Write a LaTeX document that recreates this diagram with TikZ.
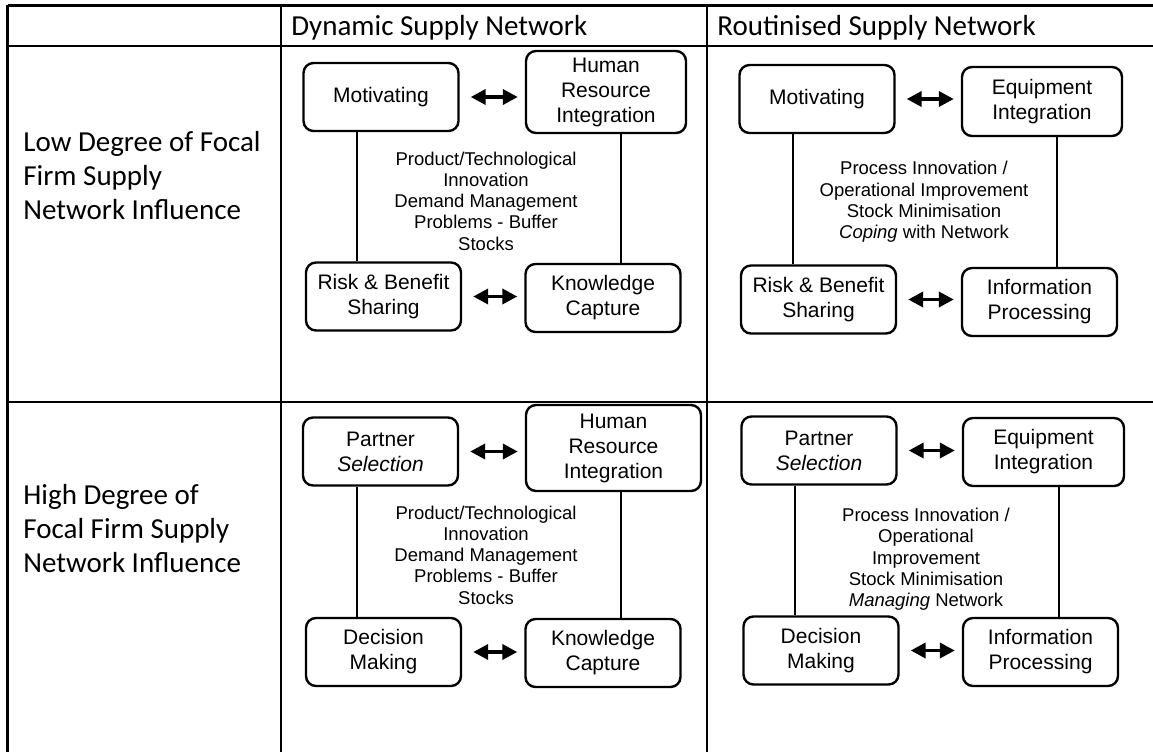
\documentclass[tikz,border=0pt]{standalone}
\usepackage{fontspec}
\setmainfont{Carlito}
\newfontfamily\arialfont{Liberation Sans}
\usetikzlibrary{positioning, arrows.meta}

\begin{document}
\begin{tikzpicture}[
    x=0.5pt, y=-0.5pt,
    % Styles
    rowlabel/.style={font=\fontsize{14.5}{17}\selectfont, align=left, anchor=north west, inner sep=0pt},
    colhead/.style={font=\fontsize{14.5}{17}\selectfont, anchor=base west, inner sep=0pt},
    activity/.style={draw, line width=1.2pt, rounded corners=5pt, align=center, font=\arialfont\fontsize{10.5}{12.5}\selectfont, minimum width=77.5pt, minimum height=34pt, inner sep=2pt},
    focus/.style={align=center, font=\arialfont\fontsize{9.25}{10.65}\selectfont, inner sep=0pt},
    grid-line/.style={line width=1.25pt},
    link-line/.style={line width=1pt},
    swap-arrow/.style={{Triangle[length=7.5pt,width=7.5pt]}-{Triangle[length=7.5pt,width=7.5pt]}, line width=1.8pt, shorten <=5.5pt, shorten >=3.5pt},
]
\useasboundingbox (0,0) rectangle (1153,751);

% Table grid
\draw[grid-line] (7.5,5.5) -- (1160,5.5);
\draw[grid-line] (7.5,46) -- (1160,46);
\draw[grid-line] (7.5,402) -- (1160,402);
\draw[grid-line] (7.5,4.9) -- (7.5,760);
\draw[grid-line] (281,4.9) -- (281,760);
\draw[grid-line] (707,4.9) -- (707,760);

% Headings
\node[colhead] (dynamic) at (291,35) {Dynamic Supply Network};
\node[colhead] (routine) at (717,35) {Routinised Supply Network};
\node[rowlabel] (low) at (23,130.5) {Low Degree of Focal\\Firm Supply\\Network Influence};
\node[rowlabel] (high) at (23,483.5) {High Degree of\\Focal Firm Supply\\Network Influence};

% LOW / DYNAMIC
\begin{scope}[shift={(281,46)}]
    \node[activity] (ld-mot) at (100,51) {Motivating};
    \node[activity, minimum width=80pt, minimum height=41pt] (ld-hri) at (325,46) {Human\\Resource\\Integration};
    \node[activity] (ld-risk) at (102.5,250.5) {Risk \& Benefit\\Sharing};
    \node[activity] (ld-know) at (322,252) {Knowledge\\Capture};
    \node[focus] (ld-focus) at (205,155) {Product/Technological\\Innovation\\Demand Management\\Problems - Buffer\\Stocks};

    \coordinate (ld-left) at ([xshift=-12pt]ld-mot.south);
    \coordinate (ld-right) at ([xshift=7.5pt]ld-hri.south);
    \draw[link-line] (ld-left) -- (ld-left |- ld-risk.north);
    \draw[link-line] (ld-right) -- (ld-right |- ld-know.north);
    \draw[swap-arrow] (ld-mot.east) -- (ld-mot.east -| ld-hri.west);
    \draw[swap-arrow] (ld-risk.east) -- (ld-risk.east -| ld-know.west);
\end{scope}

% LOW / ROUTINISED
\begin{scope}[shift={(707,46)}]
    \node[activity] (lr-mot) at (110,53) {Motivating};
    \node[activity, minimum width=80pt, minimum height=34.5pt] (lr-equip) at (335,55.5) {Equipment\\Integration};
    \node[activity] (lr-risk) at (111.5,253.5) {Risk \& Benefit\\Sharing};
    \node[activity] (lr-info) at (332.5,256) {Information\\Processing};
    \node[focus] (lr-focus) at (217,156) {Process Innovation /\\Operational Improvement\\Stock Minimisation\\\textit{Coping} with Network};

    \coordinate (lr-left) at ([xshift=-12pt]lr-mot.south);
    \coordinate (lr-right) at ([xshift=7.5pt]lr-equip.south);
    \draw[link-line] (lr-left) -- (lr-left |- lr-risk.north);
    \draw[link-line] (lr-right) -- (lr-right |- lr-info.north);
    \draw[swap-arrow] (lr-mot.east) -- (lr-mot.east -| lr-equip.west);
    \draw[swap-arrow] (lr-risk.east) -- (lr-risk.east -| lr-info.west);
\end{scope}

% HIGH / DYNAMIC
\begin{scope}[shift={(281,402)}]
    \node[activity] (hd-partner) at (99.5,49.5) {Partner\\\textit{Selection}};
    \node[activity, minimum width=87.5pt, minimum height=43pt] (hd-hri) at (332.5,46) {Human\\Resource\\Integration};
    \node[activity] (hd-decision) at (102.5,250) {Decision\\Making};
    \node[activity] (hd-know) at (322,251) {Knowledge\\Capture};
    \node[focus] (hd-focus) at (205,153) {Product/Technological\\Innovation\\Demand Management\\Problems - Buffer\\Stocks};

    \coordinate (hd-left) at ([xshift=-11.75pt]hd-partner.south);
    \coordinate (hd-right) at ([xshift=3.75pt]hd-hri.south);
    \draw[link-line] (hd-left) -- (hd-left |- hd-decision.north);
    \draw[link-line] (hd-right) -- (hd-right |- hd-know.north);
    \draw[swap-arrow] (hd-partner.east) -- (hd-partner.east -| hd-hri.west);
    \draw[swap-arrow] (hd-decision.east) -- (hd-decision.east -| hd-know.west);
\end{scope}

% HIGH / ROUTINISED
\begin{scope}[shift={(707,402)}]
    \node[activity] (hr-partner) at (112,48.5) {Partner\\\textit{Selection}};
    \node[activity, minimum width=80.5pt] (hr-equip) at (336.5,50) {Equipment\\Integration};
    \node[activity] (hr-decision) at (114,248.5) {Decision\\Making};
    \node[activity] (hr-info) at (333.5,250) {Information\\Processing};
    \node[focus] (hr-focus) at (219,157.5) {Process Innovation /\\Operational\\Improvement\\Stock Minimisation\\\textit{Managing} Network};

    \coordinate (hr-left) at ([xshift=-12pt]hr-partner.south);
    \coordinate (hr-right) at ([xshift=7.75pt]hr-equip.south);
    \draw[link-line] (hr-left) -- (hr-left |- hr-decision.north);
    \draw[link-line] (hr-right) -- (hr-right |- hr-info.north);
    \draw[swap-arrow] (hr-partner.east) -- (hr-partner.east -| hr-equip.west);
    \draw[swap-arrow] (hr-decision.east) -- (hr-decision.east -| hr-info.west);
\end{scope}

\end{tikzpicture}
\end{document}
